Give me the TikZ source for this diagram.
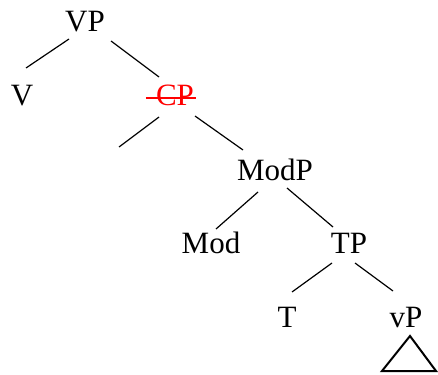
\documentclass[tikz,border=0pt]{standalone}
\usepackage{fontspec}
\setmainfont{Liberation Serif}
\begin{document}
\begin{tikzpicture}[x=1pt,y=1pt,
  lab/.style={anchor=base,inner sep=0pt,font=\fontsize{31}{31}\selectfont},
  edge/.style={line width=1.2pt},
  tri/.style={line width=2pt,line join=miter}]
\useasboundingbox (0,0) rectangle (438,-374);
% labels
\node[lab] (VP) at (85,-32) {VP};
\node[lab] (V) at (22,-106) {V};
\node[lab,text=red] (CP) at (175,-106) {CP};
\node[lab] (ModP) at (275,-180) {ModP};
\node[lab] (Mod) at (211,-253) {Mod};
\node[lab] (TP) at (349,-253) {TP};
\node[lab] (T) at (287,-327) {T};
\node[lab] (vP) at (406,-327) {vP};
% strike-through on CP
\draw[red,line width=1.3pt] ([xshift=-10pt,yshift=8pt]CP.base west) -- ([xshift=2pt,yshift=8pt]CP.base east);
% branch ends
\coordinate (vpL) at (69,-39);   \coordinate (vTop) at (26,-68);
\coordinate (vpR) at (111,-41);  \coordinate (cpTop) at (159,-77);
\coordinate (cpL) at (159,-117); \coordinate (empty) at (119,-147);
\coordinate (cpR) at (195,-116); \coordinate (modpTop) at (243,-150);
\coordinate (modpL) at (258,-192); \coordinate (modTop) at (216,-229);
\coordinate (modpR) at (287,-188); \coordinate (tpTop) at (333,-227);
\coordinate (tpL) at (332,-263); \coordinate (tTop) at (292,-292);
\coordinate (tpR) at (355,-263); \coordinate (vpsTop) at (393,-291);
\draw[edge] (vpL) -- (vTop);
\draw[edge] (vpR) -- (cpTop);
\draw[edge] (cpL) -- (empty);
\draw[edge] (cpR) -- (modpTop);
\draw[edge] (modpL) -- (modTop);
\draw[edge] (modpR) -- (tpTop);
\draw[edge] (tpL) -- (tTop);
\draw[edge] (tpR) -- (vpsTop);
% triangle
\coordinate (apex) at (410,-336);
\coordinate (bl) at (382,-371);
\coordinate (br) at (436,-371);
\draw[tri] (apex) -- (bl) -- (br) -- cycle;
\end{tikzpicture}
\end{document}
